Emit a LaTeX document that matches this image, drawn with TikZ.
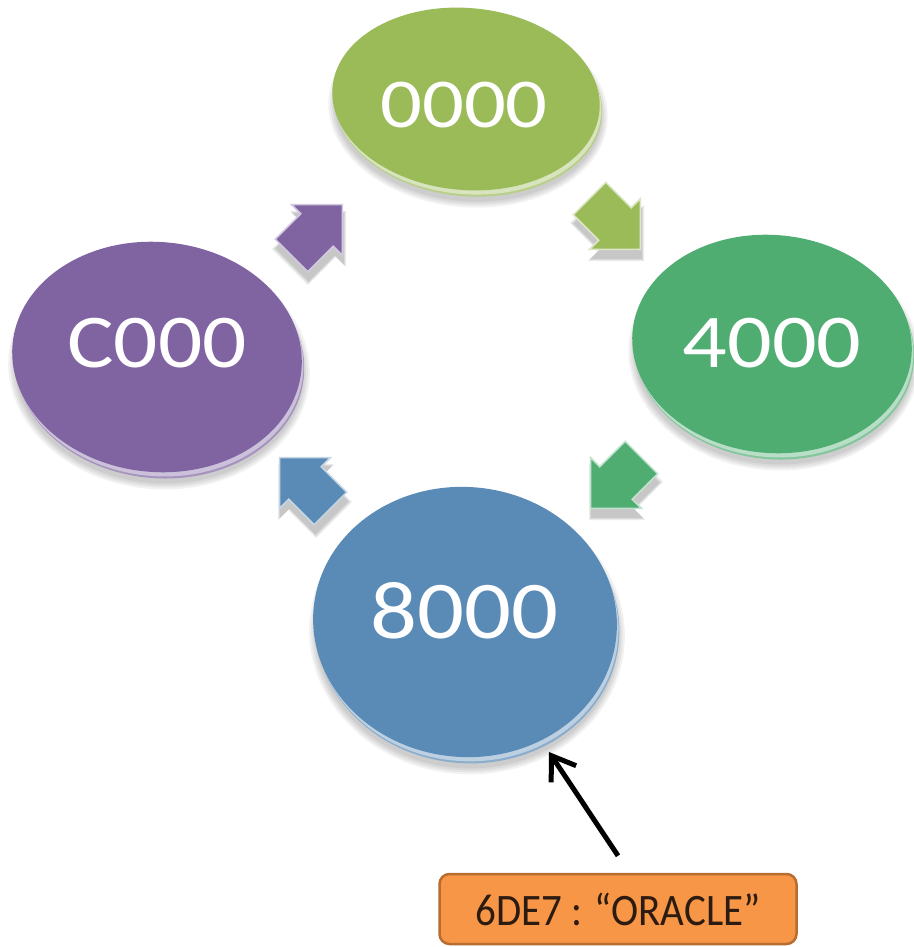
\documentclass[tikz,border=0pt]{standalone}
\usepackage{fontspec}
\setmainfont{Carlito}
\usetikzlibrary{arrows.meta}

\definecolor{diskgreen}{HTML}{9BBB59}
\definecolor{diskteal}{HTML}{4FAD72}
\definecolor{diskblue}{HTML}{5A8AB6}
\definecolor{diskpurple}{HTML}{8064A2}
\definecolor{notefill}{HTML}{F79646}
\definecolor{noteedge}{HTML}{B86D30}
\definecolor{notetext}{HTML}{2B1B10}

% A tilted coin: soft shadow, light rim, flat face.
% #1 centre, #2 x radius, #3 y radius, #4 tilt, #5 colour
\newcommand\drawdisk[5]{%
  \begin{scope}[shift={#1}, rotate=#4]
    \foreach \g in {12,8,4,0}
      \fill[black, opacity=0.05] (3,11) ellipse [x radius={(#2+\g*0.5)*1pt}, y radius={(#3+\g*0.5)*1pt}];
    \fill[#5!70!white] (3,6) ellipse [x radius=#2pt, y radius=#3pt];
    \fill[#5!40!white] (2,4) ellipse [x radius=#2pt, y radius=#3pt];
    \fill[#5] (0,0) ellipse [x radius=#2pt, y radius=#3pt];
  \end{scope}}

% A short block arrow with its shadow. #1 centre, #2 direction, #3 colour
\newcommand\drawblockarrow[3]{%
  \begin{scope}[shift={#1}]
    \foreach \k in {1.10,1.06,1.02}
      \pic[rotate=#2, scale=\k, fill=black, opacity=0.08] at (1,9) {cyclearrow};
    \pic[rotate=#2, fill=#3, draw=#3!35!white, line width=1.5pt] at (0,0) {cyclearrow};
  \end{scope}}

\tikzset{
  cyclearrow/.pic={
    \path[pic actions] (-36,-23) -- (0,-23) -- (0,-36) -- (36,0)
      -- (0,36) -- (0,23) -- (-36,23) -- cycle;
  },
  disklabel/.style={text=white, inner sep=0pt},
  notebox/.style={draw=noteedge, fill=notefill, line width=2.5pt,
    rounded corners=10pt, minimum width=357pt, minimum height=70pt,
    font=\fontsize{45}{52}\selectfont, text=notetext},
  pointer/.style={line width=5pt, black,
    -{Straight Barb[length=22pt,width=30pt]}},
}

\begin{document}
\begin{tikzpicture}[x=1pt, y=-1pt]
  \fill[white] (0,0) rectangle (913,947);
  \useasboundingbox (0,0) rectangle (913,947);

  % the four address blocks
  \drawdisk{(466,99)}{134}{91}{-5}{diskgreen}
  \drawdisk{(772,344)}{140}{109}{-5}{diskteal}
  \drawdisk{(465,622)}{152}{135}{-5}{diskblue}
  \drawdisk{(157,357)}{145}{115}{-5}{diskpurple}

  % cycle arrows between them
  \drawblockarrow{(317,230)}{45}{diskpurple}
  \drawblockarrow{(615,224)}{-45}{diskgreen}
  \drawblockarrow{(616,483)}{-135}{diskteal}
  \drawblockarrow{(305,483)}{135}{diskblue}

  % labels
  \node[disklabel, font=\fontsize{70}{80}\selectfont] (n0) at (464,105) {\scalebox{1.18}[1]{0000}};
  \node[disklabel, font=\fontsize{76}{86}\selectfont] (n4) at (772,343) {\scalebox{1.16}[1]{4000}};
  \node[disklabel, font=\fontsize{82}{92}\selectfont] (n8) at (464,611) {\scalebox{1.13}[1]{8000}};
  \node[disklabel, font=\fontsize{76}{86}\selectfont] (nC) at (157,343) {\scalebox{1.15}[1]{C000}};

  % annotation
  \node[notebox] (note) at (618,909) {\scalebox{0.91}[1]{6DE7 : “ORACLE”}};
  \coordinate (rimpt) at (549,752);
  \draw[pointer] ([yshift=17pt]note.north) -- (rimpt);
\end{tikzpicture}
\end{document}
